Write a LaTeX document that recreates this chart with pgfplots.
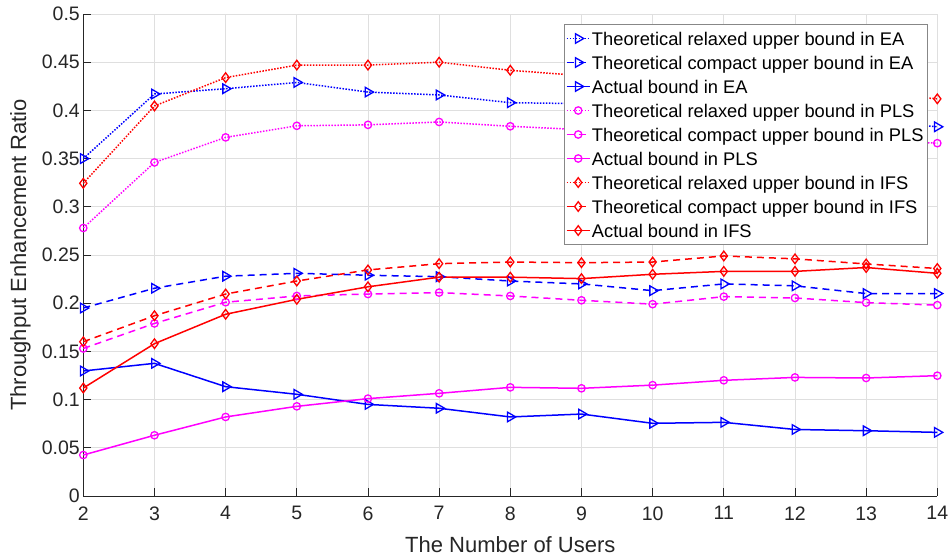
\documentclass[border=0pt]{standalone}
\usepackage{fontspec}
\setmainfont{Liberation Sans}
\usepackage{pgfplots}
\pgfplotsset{compat=1.18}
\definecolor{axgray}{RGB}{38,38,38}
\definecolor{gridgray}{RGB}{223,223,223}
\definecolor{leggray}{RGB}{135,135,135}
\definecolor{mblue}{RGB}{0,0,255}
\definecolor{mmag}{RGB}{255,0,255}
\definecolor{mred}{RGB}{255,0,0}
\pgfplotsset{
  dotline/.style={line width=1.5pt, dash pattern=on 1.5pt off 1.5pt},
  dashline/.style={line width=1.5pt, dash pattern=on 7pt off 5pt},
  solidline/.style={line width=1.5pt, solid},
  tri/.style={mark=triangle, mark size=5.5pt, mark options={solid, rotate=-90, line width=1.3pt}},
  circ/.style={mark=o, mark size=3.7pt, mark options={solid, line width=1.3pt}},
  diam/.style={mark=diamond, mark size=4.8pt, mark options={solid, line width=1.3pt}},
}
\begin{document}
\begin{tikzpicture}
\begin{axis}[
  scale only axis, width=854pt, height=482pt,
  xmin=2, xmax=14, ymin=0, ymax=0.5,
  xtick={2,3,4,5,6,7,8,9,10,11,12,13,14},
  ytick={0,0.05,0.1,0.15,0.2,0.25,0.3,0.35,0.4,0.45,0.5},
  yticklabels={0,0.05,0.1,0.15,0.2,0.25,0.3,0.35,0.4,0.45,0.5},
  axis x line*=bottom, axis y line*=left,
  axis line style={axgray, line width=0.8pt},
  every tick/.style={axgray, line width=0.8pt},
  major tick length=8pt, tick align=inside,
  grid=major, major grid style={gridgray, line width=0.8pt},
  /pgf/number format/assume math mode=true,
  tick label style={font=\fontsize{19.5}{24}\selectfont, text=axgray},
  xticklabel style={yshift=-7pt},
  xlabel={The Number of Users},
  ylabel={Throughput Enhancement Ratio},
  label style={font=\fontsize{22}{26}\selectfont, text=axgray},
  xlabel style={at={(axis description cs:0.5,-0.1017)}, anchor=center},
  ylabel style={at={(axis description cs:-0.0737,0.5)}, anchor=center},
  clip=false,
  legend cell align=left,
  legend style={at={(rel axis cs:0.9883,0.9786)}, anchor=north east,
    draw=leggray, fill=white,
    font=\fontsize{18.3}{22}\selectfont, inner sep=2pt, row sep=0pt,
    nodes={inner xsep=1.5pt, inner ysep=3pt, text height=15.5pt, text depth=2.5pt}},
  legend image code/.code={\draw[mark repeat=2, mark phase=2, #1] plot coordinates {(0pt,0pt) (11.5pt,0pt) (23pt,0pt)};},
]
\coordinate (ll) at (rel axis cs:0,0);
\coordinate (ur) at (rel axis cs:1,1);
% EA
\addplot[mblue, dotline, tri] coordinates {(2,0.350) (3,0.417) (4,0.4225) (5,0.429) (6,0.419) (7,0.416) (8,0.408) (9,0.407) (10,0.402) (11,0.398) (12,0.394) (13,0.389) (14,0.383)};
\addlegendentry{Theoretical relaxed upper bound in EA}
\addplot[mblue, dashline, tri] coordinates {(2,0.195) (3,0.2155) (4,0.228) (5,0.231) (6,0.229) (7,0.2275) (8,0.223) (9,0.220) (10,0.213) (11,0.220) (12,0.218) (13,0.210) (14,0.210)};
\addlegendentry{Theoretical compact upper bound in EA}
\addplot[mblue, solidline, tri] coordinates {(2,0.1297) (3,0.1376) (4,0.1134) (5,0.1055) (6,0.095) (7,0.091) (8,0.082) (9,0.085) (10,0.0754) (11,0.0764) (12,0.069) (13,0.0677) (14,0.066)};
\addlegendentry{Actual bound in EA}
% PLS
\addplot[mmag, dotline, circ] coordinates {(2,0.278) (3,0.346) (4,0.372) (5,0.384) (6,0.385) (7,0.388) (8,0.3835) (9,0.380) (10,0.377) (11,0.374) (12,0.371) (13,0.369) (14,0.366)};
\addlegendentry{Theoretical relaxed upper bound in PLS}
\addplot[mmag, dashline, circ] coordinates {(2,0.153) (3,0.179) (4,0.201) (5,0.2075) (6,0.2095) (7,0.211) (8,0.2075) (9,0.203) (10,0.199) (11,0.2068) (12,0.2054) (13,0.2006) (14,0.198)};
\addlegendentry{Theoretical compact upper bound in PLS}
\addplot[mmag, solidline, circ] coordinates {(2,0.0425) (3,0.063) (4,0.082) (5,0.093) (6,0.101) (7,0.1065) (8,0.1127) (9,0.1117) (10,0.115) (11,0.120) (12,0.123) (13,0.1224) (14,0.1248)};
\addlegendentry{Actual bound in PLS}
% IFS
\addplot[mred, dotline, diam] coordinates {(2,0.3244) (3,0.4046) (4,0.434) (5,0.447) (6,0.447) (7,0.450) (8,0.4416) (9,0.436) (10,0.432) (11,0.428) (12,0.423) (13,0.418) (14,0.412)};
\addlegendentry{Theoretical relaxed upper bound in IFS}
\addplot[mred, dashline, diam] coordinates {(2,0.160) (3,0.187) (4,0.2095) (5,0.223) (6,0.2345) (7,0.241) (8,0.2427) (9,0.242) (10,0.2427) (11,0.249) (12,0.246) (13,0.2407) (14,0.236)};
\addlegendentry{Theoretical compact upper bound in IFS}
\addplot[mred, solidline, diam] coordinates {(2,0.112) (3,0.158) (4,0.1885) (5,0.204) (6,0.217) (7,0.227) (8,0.227) (9,0.2255) (10,0.230) (11,0.233) (12,0.233) (13,0.237) (14,0.231)};
\addlegendentry{Actual bound in IFS}
\end{axis}
\pgfresetboundingbox
\path ([xshift=-83.3pt,yshift=-61pt]ll) rectangle ([xshift=11.7pt,yshift=14pt]ur);
\end{tikzpicture}
\end{document}
